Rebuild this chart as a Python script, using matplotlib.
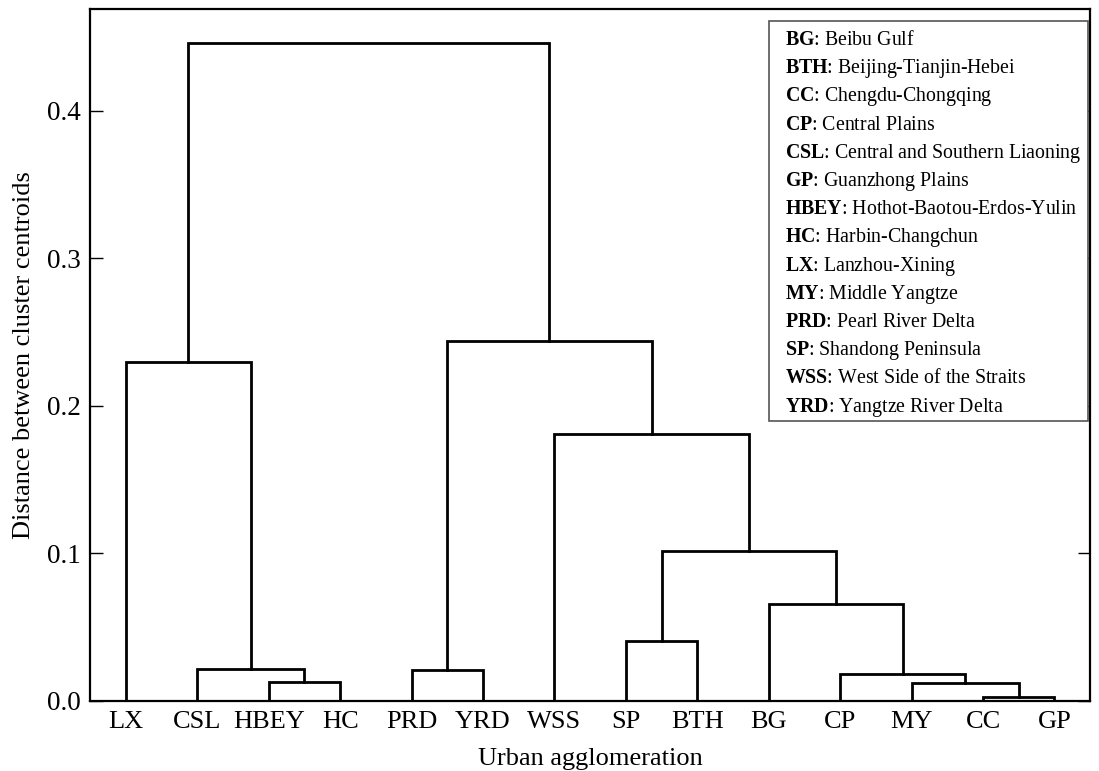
import numpy as np
import matplotlib
matplotlib.use('Agg')
import matplotlib.pyplot as plt
from matplotlib.patches import Rectangle

plt.rcParams['font.family'] = 'Liberation Serif'
plt.rcParams['mathtext.fontset'] = 'custom'
plt.rcParams['mathtext.rm'] = 'Liberation Serif'
plt.rcParams['mathtext.bf'] = 'Liberation Serif:bold'

### DATA ###
# leaf order along the x axis
leaves = ['LX', 'CSL', 'HBEY', 'HC', 'PRD', 'YRD', 'WSS',
          'SP', 'BTH', 'BG', 'CP', 'MY', 'CC', 'GP']

# merges: (left child, right child, height) -> new cluster name
merge_left = ['CC', 'MY', 'HBEY', 'CP', 'PRD', 'CSL', 'SP',
              'BG', 'c20', 'WSS', 'LX', 'c18', 'c24']
merge_right = ['GP', 'c14', 'HC', 'c15', 'YRD', 'c16', 'BTH',
               'c17', 'c21', 'c22', 'c19', 'c23', 'c25']
merge_height = [0.0027, 0.0120, 0.0130, 0.0183, 0.0210, 0.0215, 0.0407,
                0.0660, 0.1017, 0.1810, 0.2300, 0.2440, 0.4460]

# legend text
abbr = ['BG', 'BTH', 'CC', 'CP', 'CSL', 'GP', 'HBEY',
        'HC', 'LX', 'MY', 'PRD', 'SP', 'WSS', 'YRD']
full_names = ['Beibu Gulf', 'Beijing-Tianjin-Hebei', 'Chengdu-Chongqing',
              'Central Plains', 'Central and Southern Liaoning',
              'Guanzhong Plains', 'Hothot-Baotou-Erdos-Yulin',
              'Harbin-Changchun', 'Lanzhou-Xining', 'Middle Yangtze',
              'Pearl River Delta', 'Shandong Peninsula',
              'West Side of the Straits', 'Yangtze River Delta']

### Build node positions (scipy-like layout) ###
xpos = {name: 10*i + 5 for i, name in enumerate(leaves)}
ypos = {name: 0.0 for name in leaves}

fig = plt.figure(figsize=(10.99, 7.71), dpi=100)
ax = fig.add_axes([0.082, 0.091, 0.910, 0.897])

n = len(leaves)
for k, (a, b, h) in enumerate(zip(merge_left, merge_right, merge_height)):
    xa, xb = xpos[a], xpos[b]
    ax.plot([xa, xa, xb, xb], [ypos[a], h, h, ypos[b]],
            color='black', linewidth=2, solid_joinstyle='miter')
    new = 'c%d' % (n + k)
    xpos[new] = 0.5*(xa + xb)
    ypos[new] = h

ax.set_xlim(0, 10*n)
ax.set_ylim(0, 0.469)
ax.set_xticks([10*i + 5 for i in range(n)])
ax.set_xticklabels(leaves, fontsize=19)
ax.set_yticks([0.0, 0.1, 0.2, 0.3, 0.4])
ax.set_yticklabels(['0.0', '0.1', '0.2', '0.3', '0.4'], fontsize=19.5)
ax.tick_params(axis='x', length=0, pad=7)
ax.tick_params(axis='y', direction='in', length=9, width=1,
               left=True, right=True, pad=7)
for s in ax.spines.values():
    s.set_linewidth(1.6)

ax.set_xlabel('Urban agglomeration', fontsize=19, labelpad=11)
ax.set_ylabel('Distance between cluster centroids', fontsize=19, labelpad=8)

# legend box with abbreviations
ax.add_patch(Rectangle((0.679, 0.405), 0.319, 0.578, transform=ax.transAxes,
                       facecolor='white', edgecolor='#555555',
                       linewidth=1.2, zorder=3))
for i, (a, nm) in enumerate(zip(abbr, full_names)):
    ax.text(0.695, 0.955 - i*0.0408, r'$\mathbf{%s}$: %s' % (a, nm),
            transform=ax.transAxes, fontsize=14.3, va='center', ha='left',
            zorder=4)

plt.savefig('out.png', dpi=100)
